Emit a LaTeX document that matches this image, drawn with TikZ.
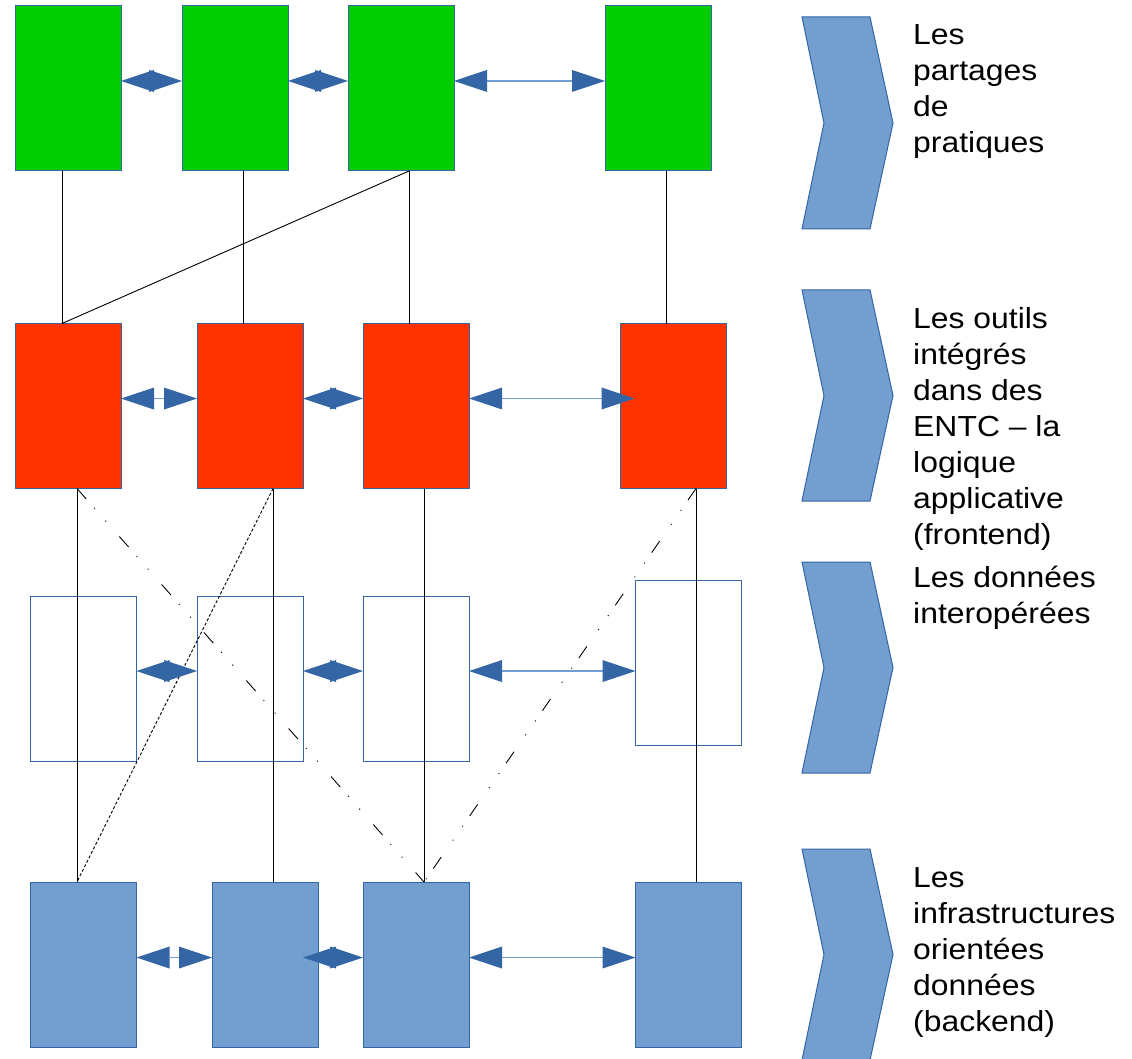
\documentclass[tikz,border=0pt]{standalone}
\usepackage{fontspec}
\setmainfont{Liberation Sans}[FakeStretch=1.1]
\usetikzlibrary{arrows.meta}
\definecolor{grn}{HTML}{00CC00}
\definecolor{rd}{HTML}{FF3300}
\definecolor{edge}{HTML}{3465A4}
\definecolor{lblue}{HTML}{729FCF}

\begin{document}
\begin{tikzpicture}[x=1pt,y=-1pt,
  box/.style={draw=edge, line width=1pt, minimum width=106pt, minimum height=165pt, inner sep=0pt, outer sep=0pt},
  practice/.style={box, fill=grn},
  tool/.style={box, fill=rd},
  datum/.style={box, fill=white},
  infra/.style={box, fill=lblue},
  link/.style={black, line width=0.9pt},
  dotlink/.style={link, dash pattern=on 3pt off 2pt},
  dashdotlink/.style={link, dash pattern=on 14pt off 12pt on 1pt off 16pt on 1pt off 20pt},
  exch/.style={lblue, line width=1.5pt,
    {Triangle[length=33pt,width=22pt,color=edge,line width=0pt]}-{Triangle[length=33pt,width=22pt,color=edge,line width=0pt]}},
  chev/.style={draw=edge, fill=lblue, line width=1pt},
  % anchored on the baseline of the last line
  layertext/.style={anchor=base west, align=left, inner sep=0pt, font=\fontsize{29}{36}\selectfont}
]
\useasboundingbox (0,0) rectangle (1132,1059);
\fill[white] (0,0) rectangle (1132,1059);

% layer 1: shared practices
\node[practice] (G1) at (68,88.5) {};
\node[practice] (G2) at (235,88.5) {};
\node[practice] (G3) at (401,88.5) {};
\node[practice] (G4) at (658,88.5) {};

% layer 2: tools
\node[tool] (R1) at (68,406) {};
\node[tool] (R2) at (250,406) {};
\node[tool] (R3) at (416,406) {};
\node[tool] (R4) at (673.5,406) {};

% layer 3: interoperated data
\node[datum] (W1) at (83.5,678.5) {};
\node[datum] (W2) at (250,678.5) {};
\node[datum] (W3) at (416,678.5) {};
\node[datum] (W4) at (688.5,663) {};

% layer 4: infrastructures
\node[infra] (B1) at (83.5,964.5) {};
\node[infra] (B2) at (265,964.5) {};
\node[infra] (B3) at (416,964.5) {};
\node[infra] (B4) at (688.5,964.5) {};

% links between practices and tools
\draw[link] ([xshift=-6pt]G1.south) -- ([xshift=-6pt]R1.north);
\draw[link] ([xshift=8pt]G2.south) -- ([xshift=-7pt]R2.north);
\draw[link] ([xshift=8pt]G3.south) -- ([xshift=-7pt]R3.north);
\draw[link] ([xshift=8pt]G3.south) -- ([xshift=-6pt]R1.north);
\draw[link] ([xshift=8pt]G4.south) -- ([xshift=-7.5pt]R4.north);

% links between tools and infrastructures
\draw[link] ([xshift=9pt]R1.south) -- ([xshift=-6.5pt]B1.north);
\draw[link] ([xshift=23pt]R2.south) -- ([xshift=8pt]B2.north);
\draw[link] ([xshift=8pt]R3.south) -- ([xshift=8pt]B3.north);
\draw[link] ([xshift=22.5pt]R4.south) -- ([xshift=7.5pt]B4.north);
\draw[dotlink] ([xshift=23pt]R2.south) -- ([xshift=-6.5pt]B1.north);
\draw[dashdotlink] ([xshift=9pt]R1.south) -- ([xshift=8pt]B3.north);
\draw[dashdotlink] ([xshift=22.5pt]R4.south) -- ([xshift=8pt]B3.north);

% exchanges within each layer
\draw[exch] ([yshift=7.5pt]G1.east) -- ([yshift=7.5pt]G2.west);
\draw[exch] ([yshift=7.5pt]G2.east) -- ([yshift=7.5pt]G3.west);
\draw[exch] ([yshift=7.5pt]G3.east) -- ([yshift=7.5pt]G4.west);

\draw[exch] ([yshift=7.5pt]R1.east) -- ([yshift=7.5pt]R2.west);
\draw[exch] ([yshift=7.5pt]R2.east) -- ([yshift=7.5pt]R3.west);
\draw[exch] ([yshift=7.5pt]R3.east) -- ([xshift=14pt,yshift=7.5pt]R4.west);

\draw[exch] ([yshift=7.5pt]W1.east) -- ([yshift=7.5pt]W2.west);
\draw[exch] ([yshift=7.5pt]W2.east) -- ([yshift=7.5pt]W3.west);
\draw[exch] ([yshift=7.5pt]W3.east) -- ([yshift=7.5pt]W3.east -| W4.west);

\draw[exch] ([yshift=7pt]B1.east) -- ([yshift=7pt]B2.west);
\draw[exch] ([xshift=-15pt,yshift=7pt]B2.east) -- ([yshift=7pt]B3.west);
\draw[exch] ([yshift=7pt]B3.east) -- ([yshift=7pt]B4.west);

% chevrons beside each layer
\foreach \t/\b in {17/229, 290/501, 562/773, 849/1060}{
  \draw[chev] (802,\t) -- (870,\t) -- (893,{(\t+\b)/2}) -- (870,\b) -- (802,\b) -- (824,{(\t+\b)/2}) -- cycle;
}

% layer captions
\node[layertext] (t1) at (913,153) {Les\\partages\\de\\pratiques};
\node[layertext] (t2) at (913,544) {Les outils\\intégrés\\dans des\\ENTC – la\\logique\\applicative\\(frontend)};
\node[layertext] (t3) at (913,623) {Les données\\interopérées};
\node[layertext] (t4) at (913,1031) {Les\\infrastructures\\orientées\\données\\(backend)};
\end{tikzpicture}
\end{document}
